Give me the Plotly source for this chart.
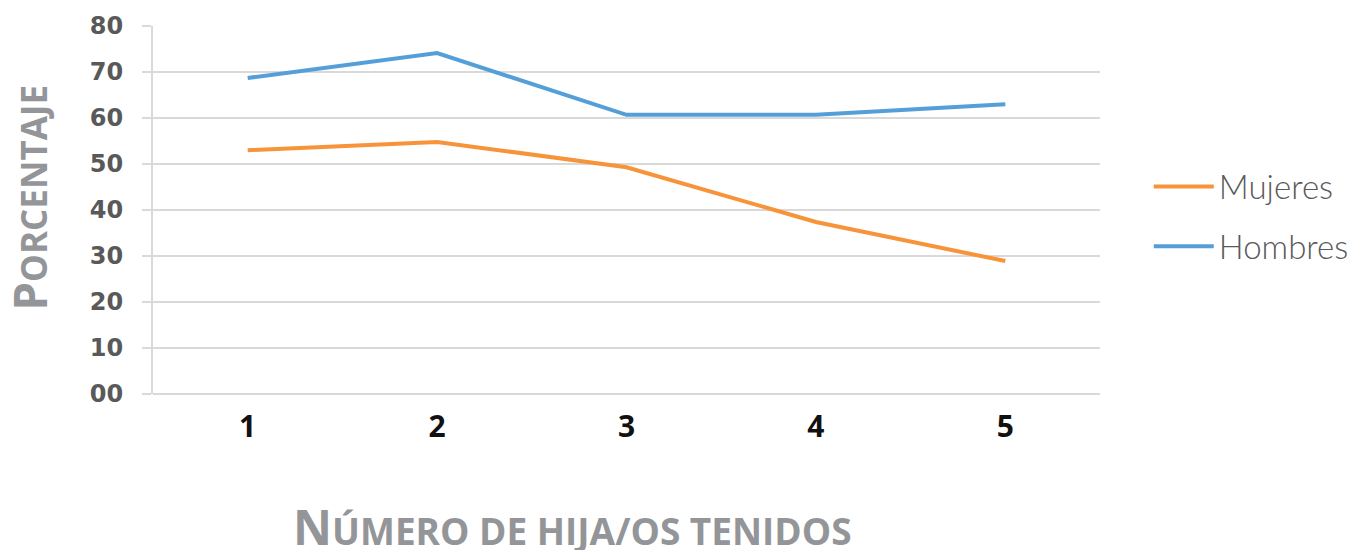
import plotly.graph_objects as go

categories = ["1", "2", "3", "4", "5"]
mujeres = [53.0, 54.8, 49.3, 37.4, 28.9]
hombres = [68.7, 74.1, 60.7, 60.7, 63.0]
ytick_vals = [0, 10, 20, 30, 40, 50, 60, 70, 80]
ytick_text = ["00", "10", "20", "30", "40", "50", "60", "70", "80"]

fig = go.Figure()
fig.add_trace(go.Scatter(x=categories, y=mujeres, mode="lines", name="Mujeres",
                         line=dict(color="#F7943A", width=4), legendgroup="m"))
fig.add_trace(go.Scatter(x=categories, y=hombres, mode="lines", name="Hombres",
                         line=dict(color="#559FD9", width=4), legendgroup="h"))

fig.update_layout(
    width=1348, height=542,
    margin=dict(l=145, r=256, t=18, b=156, autoexpand=False),
    paper_bgcolor="white", plot_bgcolor="white",
    showlegend=True,
    legend=dict(x=1.0515, y=0.64, xanchor="left", yanchor="top",
                font=dict(family="Lato", size=33, color="#595959", weight=300),
                tracegroupgap=14, itemwidth=60, bgcolor="rgba(0,0,0,0)"),
    xaxis=dict(type="category", range=[-0.5, 4.5], showgrid=False,
               showline=False, ticks="",
               tickfont=dict(family="Open Sans", size=30, color="#111111", weight="bold"),
               ticklabelstandoff=12),
    yaxis=dict(range=[0, 80], tickvals=ytick_vals, ticktext=ytick_text,
               showgrid=True, gridcolor="#D9D9D9", gridwidth=2,
               showline=True, linecolor="#D9D9D9", linewidth=2,
               ticks="outside", ticklen=9, tickcolor="#D9D9D9", tickwidth=2,
               zeroline=True, zerolinecolor="#D9D9D9", zerolinewidth=2,
               tickfont=dict(family="DejaVu Sans", size=24, color="#595959", weight="bold"),
               ticklabelstandoff=14),
    annotations=[
        dict(text="<span style='font-size:46px'>P</span><span style='font-size:35px'>ORCENTAJE</span>",
             xref="paper", yref="paper", x=-0.131, y=0.533, xanchor="center", yanchor="middle",
             textangle=-90, showarrow=False,
             font=dict(family="Open Sans", color="#939598", weight="bold")),
        dict(text="<span style='font-size:48px'>N</span><span style='font-size:37px'>ÚMERO DE HIJA/OS TENIDOS</span>",
             xref="paper", yref="paper", x=(564 - 145) / 947, y=-0.36, xanchor="center", yanchor="middle",
             showarrow=False,
             font=dict(family="Open Sans", color="#939598", weight="bold")),
    ],
)

fig.write_html("out.html")
